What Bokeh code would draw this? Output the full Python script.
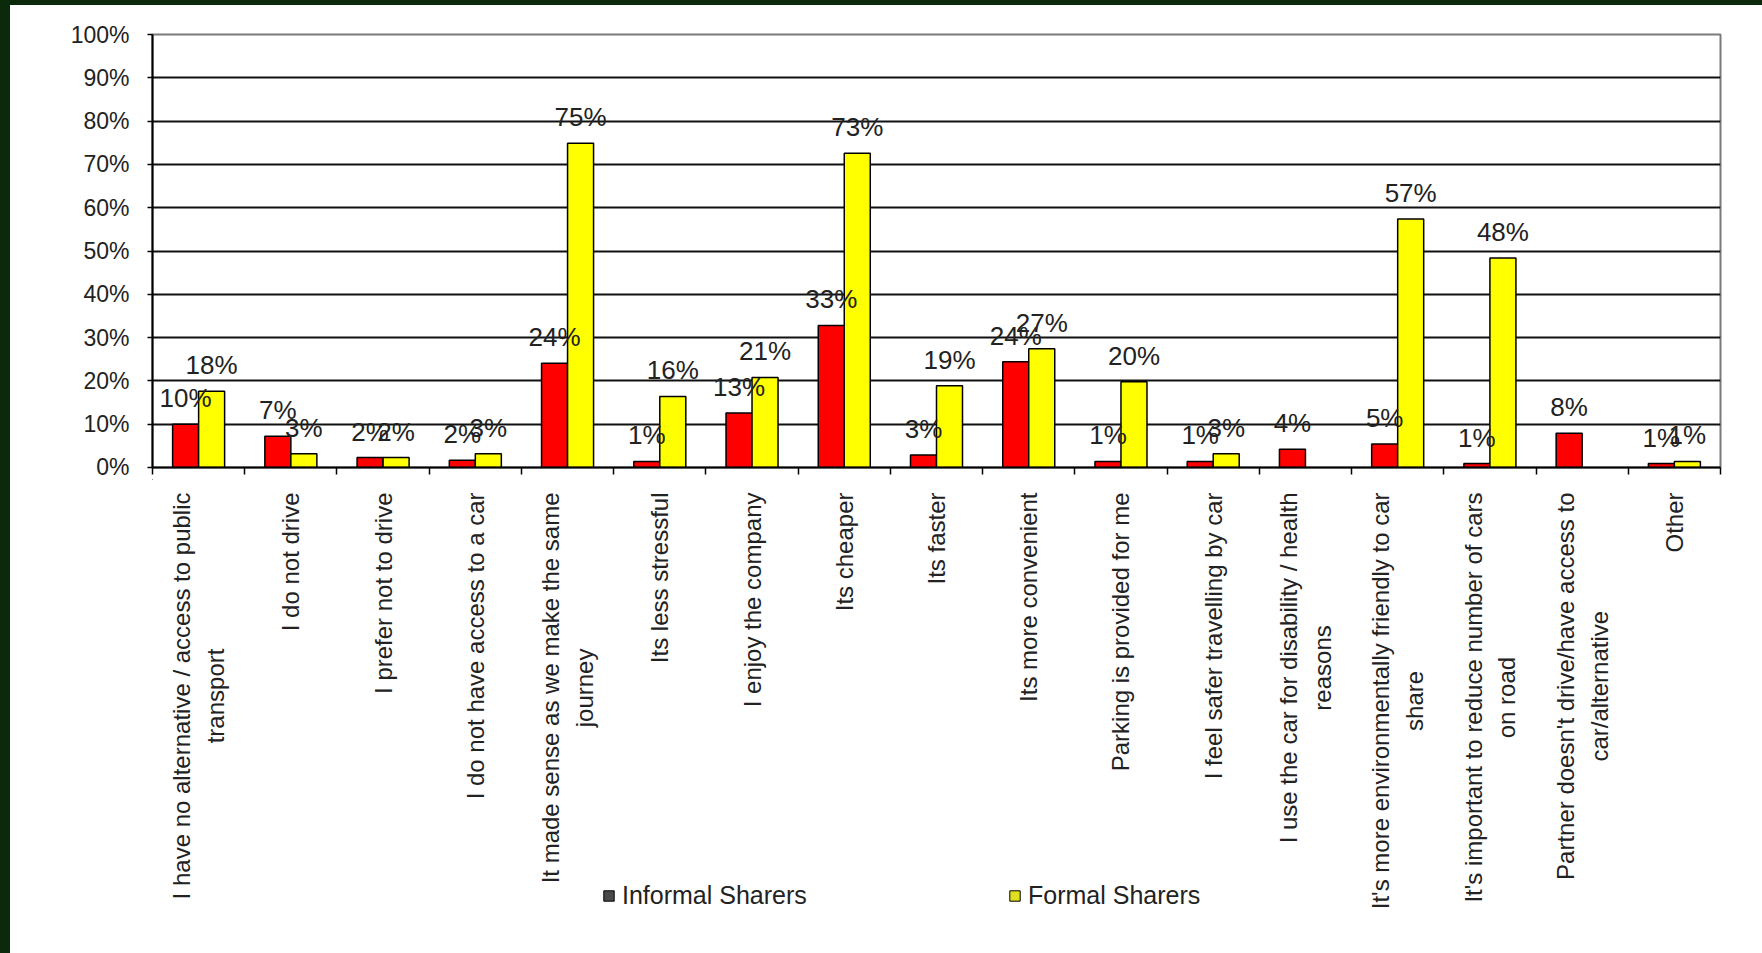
import math
from bokeh.plotting import figure
from bokeh.models import (ColumnDataSource, FixedTicker, SingleIntervalTicker, NumeralTickFormatter,
                          Legend, LegendItem, Spacer, Range1d)
from bokeh.layouts import row, column
from bokeh.core.properties import value
from bokeh.embed import file_html
from bokeh.resources import INLINE

# ---------------- data ----------------
categories = [
    "I have no alternative / access to public\ntransport",
    "I do not drive",
    "I prefer not to drive",
    "I do not have access to a car",
    "It made sense as we make the same\njourney",
    "Its less stressful",
    "I enjoy the company",
    "Its cheaper",
    "Its faster",
    "Its more convenient",
    "Parking is provided for me",
    "I feel safer travelling by car",
    "I use the car for disability / health\nreasons",
    "It's more environmentally friendly to car\nshare",
    "It's important to reduce number of cars\non road",
    "Partner doesn't drive/have access to\ncar/alternative",
    "Other",
]
informal = [0.100, 0.072, 0.023, 0.017, 0.241, 0.014, 0.126, 0.328, 0.029, 0.244,
            0.014, 0.014, 0.042, 0.054, 0.009, 0.079, 0.009]
formal = [0.176, 0.032, 0.023, 0.032, 0.749, 0.164, 0.208, 0.726, 0.189, 0.274,
          0.198, 0.032, 0.0, 0.574, 0.484, 0.0, 0.014]
series_names = ["Informal Sharers", "Formal Sharers"]

# ---------------- style ----------------
FONT = "Liberation Sans"
TXT = "#222222"
GREEN = "#0b2a0b"
RED = "#ff0000"
YELLOW = "#ffff00"
BAR_W = 0.282
FIG_W = 1752
TOP_H = 474
BOT_H = 474

n = len(categories)
centers = [i + 0.5 for i in range(n)]
xr = Range1d(0, n)

inf_src = ColumnDataSource(dict(
    x=[c - BAR_W / 2 for c in centers],
    top=informal,
    lab=["{:.0f}%".format(v * 100) for v in informal],
))
f_idx = [i for i, v in enumerate(formal) if v > 0]
for_src = ColumnDataSource(dict(
    x=[centers[i] + BAR_W / 2 for i in f_idx],
    top=[formal[i] for i in f_idx],
    lab=["{:.0f}%".format(formal[i] * 100) for i in f_idx],
))

# ---------------- main chart ----------------
p = figure(width=FIG_W, height=TOP_H,
           x_range=xr, y_range=Range1d(0, 1),
           output_backend="svg", toolbar_location=None,
           min_border_left=142, min_border_right=42,
           min_border_top=29, min_border_bottom=12)

p.background_fill_color = "white"
p.border_fill_color = "white"
p.outline_line_color = "#7a7a7a"
p.outline_line_width = 2

p.vbar(x="x", top="top", width=BAR_W, source=inf_src,
       fill_color=RED, line_color="black", line_width=1.5)
p.vbar(x="x", top="top", width=BAR_W, source=for_src,
       fill_color=YELLOW, line_color="black", line_width=1.5)

for src in (inf_src, for_src):
    p.text(x="x", y="top", text="lab", source=src,
           text_align="center", text_baseline="alphabetic", y_offset=-26,
           text_font=value(FONT), text_font_size="26px", text_color=TXT)

p.yaxis.ticker = SingleIntervalTicker(interval=0.1, num_minor_ticks=0)
p.yaxis.formatter = NumeralTickFormatter(format="0%")
p.yaxis.major_label_text_font = FONT
p.yaxis.major_label_text_font_size = "23px"
p.yaxis.major_label_text_color = TXT
p.yaxis.major_tick_out = 5
p.yaxis.major_tick_in = 0
p.yaxis.major_tick_line_color = "black"
p.yaxis.major_tick_line_width = 1.5
p.yaxis.minor_tick_line_color = None
p.yaxis.axis_line_color = "black"
p.yaxis.axis_line_width = 2
p.yaxis.major_label_standoff = 18

p.xgrid.visible = False
p.ygrid.ticker = FixedTicker(ticks=[k / 10 for k in range(1, 10)])
p.ygrid.grid_line_color = "#111111"
p.ygrid.grid_line_width = 2

p.xaxis.ticker = FixedTicker(ticks=[], minor_ticks=list(range(n + 1)))
p.xaxis.minor_tick_out = 7
p.xaxis.minor_tick_in = 0
p.xaxis.minor_tick_line_color = "black"
p.xaxis.minor_tick_line_width = 1.5
p.xaxis.axis_line_color = "black"
p.xaxis.axis_line_width = 2

# ---------------- category labels + legend panel ----------------
q = figure(width=FIG_W, height=BOT_H, x_range=xr, y_range=Range1d(BOT_H, 0),
           output_backend="svg", toolbar_location=None,
           x_axis_location=None, y_axis_location=None,
           min_border_left=142, min_border_right=42,
           min_border_top=0, min_border_bottom=0)
q.background_fill_color = "white"
q.border_fill_color = "white"
q.outline_line_color = None
q.grid.visible = False

lab_src = ColumnDataSource(dict(x=centers, y=[13] * n, text=categories))
q.text(x="x", y="y", text="text", source=lab_src,
       angle=math.pi / 2, anchor="center_right", text_align="center",
       text_font=value(FONT), text_font_size="24px", text_line_height=1.25,
       text_color=TXT)

# legend proxies: one off-screen point each, so that the legend draws its swatch
leg_inf = q.vbar(x=[-10], top=[0], width=0.1, fill_color="#4a4a4a", line_color="black")
leg_for = q.vbar(x=[-10], top=[0], width=0.1, fill_color="#e0e020", line_color="black")
for rend, name, xloc in ((leg_inf, series_names[0], 450), (leg_for, series_names[1], 856)):
    lg = Legend(items=[LegendItem(label=name, renderers=[rend])],
                location=(xloc, 43), orientation="horizontal",
                glyph_width=13, glyph_height=13, label_standoff=7,
                padding=0, margin=0, spacing=0,
                border_line_alpha=0, background_fill_alpha=0,
                label_text_font=FONT, label_text_font_size="25px",
                label_text_color=TXT)
    q.add_layout(lg)

left_bar = Spacer(width=10, height=953, styles={"background-color": GREEN})
top_bar = Spacer(width=FIG_W, height=5, styles={"background-color": GREEN})
layout = row(left_bar, column(top_bar, p, q, spacing=0), spacing=0)

open("out.html", "w").write(file_html(layout, INLINE))
